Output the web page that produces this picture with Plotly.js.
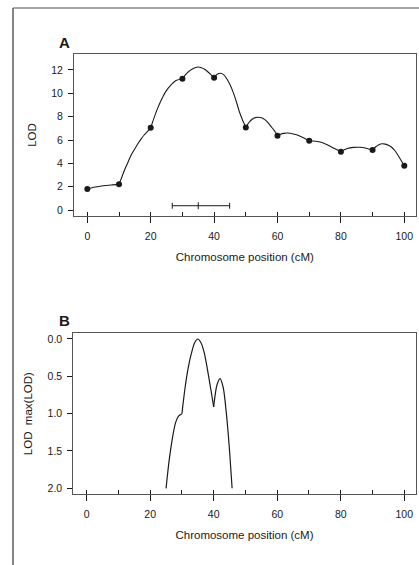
<!DOCTYPE html>
<html>
<head>
<meta charset="utf-8">
<script src="https://cdn.plot.ly/plotly-3.0.1.min.js"></script>
<style>html,body{margin:0;padding:0;background:#fff;}#chart{width:419px;height:565px;}</style>
</head>
<body>
<div id="chart"></div>
<script>
// Panel A: marker positions and LOD at markers
const markerPos = [0, 10, 20, 30, 40, 50, 60, 70, 80, 90, 100];
const markerLOD = [1.8, 2.2, 7.05, 11.25, 11.34, 7.08, 6.37, 5.94, 5.0, 5.14, 3.8];

// Panel A: LOD profile, one piece per marker interval (null separates the pieces)
const curveX = [
  0, 2.5, 5, 7.5, 10, null,
  10, 11, 12, 13, 14, 15, 16, 17, 18, 19, 20, null,
  20, 22, 24, 25, 26, 28, 30, null,
  30, 31, 32, 33, 34, 35, 36, 37, 38, 39, 40, null,
  40, 41, 42, 43, 44, 45, 46, 47, 48, 49, 50, null,
  50, 51, 52, 53, 54, 55, 56, 57, 58, 59, 60, null,
  60, 61, 62, 63, 64, 66, 68, 70, null,
  70, 72, 74, 76, 78, 80, null,
  80, 82, 84, 86, 88, 90, null,
  90, 91, 92, 93, 94, 95, 96, 97, 98, 99, 100
];
const curveLOD = [
  1.8, 1.97, 2.08, 2.15, 2.2, null,
  2.2, 2.9, 3.6, 4.2, 4.8, 5.25, 5.7, 6.1, 6.45, 6.75, 7.05, null,
  7.05, 8.6, 9.8, 10.25, 10.6, 11.1, 11.25, null,
  11.25, 11.6, 11.87, 12.06, 12.2, 12.25, 12.2, 12.07, 11.85, 11.6, 11.34, null,
  11.34, 11.63, 11.72, 11.6, 11.25, 10.75, 10.1, 9.3, 8.4, 7.7, 7.08, null,
  7.08, 7.5, 7.78, 7.92, 7.95, 7.9, 7.75, 7.5, 7.15, 6.8, 6.37, null,
  6.37, 6.5, 6.57, 6.6, 6.58, 6.45, 6.22, 5.94, null,
  5.94, 5.9, 5.78, 5.55, 5.27, 5.0, null,
  5.0, 5.27, 5.37, 5.38, 5.3, 5.14, null,
  5.14, 5.42, 5.6, 5.68, 5.65, 5.55, 5.38, 5.1, 4.7, 4.25, 3.8
];

// Panel A: support interval
const ciPeak = 35;
const ciLow = 26.8;
const ciHigh = 44.9;
const ciLevel = 0.37;

// Panel B: LOD - max(LOD) (shown on reversed axis)
const dropX = [
  25, 26, 27, 28, 29, 30, null,
  30, 31, 32, 33, 34, 35, 36, 37, 38, 39, 40, null,
  40, 41, 42, 43, 44, 45, 45.8
];
const dropLOD = [
  2.0, 1.62, 1.33, 1.12, 1.03, 1.0, null,
  1.0, 0.65, 0.38, 0.19, 0.05, 0.0, 0.05, 0.18, 0.4, 0.65, 0.91, null,
  0.91, 0.62, 0.53, 0.65, 1.0, 1.5, 2.0
];

// Tick labels
const xTickVals = [0, 20, 40, 60, 80, 100];
const yTickValsA = [0, 2, 4, 6, 8, 10, 12];
const yTickValsB = [0, 0.5, 1.0, 1.5, 2.0];
const yTickTextB = ['0.0', '0.5', '1.0', '1.5', '2.0'];

const W = 419, H = 565;
const px = v => v / W;
const py = v => 1 - v / H;
const FONT = 'Liberation Sans, Arial, Helvetica, sans-serif';
const INK = '#1a1a1a';

const traces = [
  {x: curveX, y: curveLOD, xaxis: 'x', yaxis: 'y', mode: 'lines',
   line: {color: INK, width: 1.1, shape: 'spline', smoothing: 0.8}, connectgaps: false,
   hoverinfo: 'skip', showlegend: false},
  {x: markerPos, y: markerLOD, xaxis: 'x', yaxis: 'y', mode: 'markers',
   marker: {color: INK, size: 6, symbol: 'circle'}, showlegend: false},
  {x: [ciPeak], y: [ciLevel], xaxis: 'x', yaxis: 'y', mode: 'markers',
   marker: {color: INK, size: 5, symbol: 'line-ns-open', line: {width: 1, color: INK}},
   error_x: {type: 'data', symmetric: false, array: [ciHigh - ciPeak], arrayminus: [ciPeak - ciLow],
             color: INK, thickness: 1, width: 3},
   showlegend: false},
  {x: dropX, y: dropLOD, xaxis: 'x2', yaxis: 'y2', mode: 'lines',
   line: {color: INK, width: 1.2, shape: 'spline', smoothing: 0.8}, connectgaps: false,
   hoverinfo: 'skip', showlegend: false}
];

const axisCommon = {
  showgrid: false, zeroline: false, showline: true, mirror: true,
  linecolor: '#555', linewidth: 1, ticks: 'outside', tickcolor: INK, tickwidth: 1,
  tickfont: {family: FONT, size: 10.5, color: INK}
};

const layout = {
  width: W, height: H,
  margin: {l: 0, r: 0, t: 0, b: 0},
  paper_bgcolor: '#fff', plot_bgcolor: '#fff',
  font: {family: FONT, color: INK},
  showlegend: false,
  xaxis: Object.assign({}, axisCommon, {
    domain: [px(74), px(415.7)], anchor: 'y', range: [-4.2, 103.6],
    tickvals: xTickVals, ticklen: 6, ticklabelstandoff: 4,
    minor: {dtick: 10, tick0: 0, ticks: 'inside', ticklen: 4, tickcolor: INK, tickwidth: 1, showgrid: false},
    title: {text: 'Chromosome position (cM)', font: {family: FONT, size: 11.5, color: INK}, standoff: 12}
  }),
  yaxis: Object.assign({}, axisCommon, {
    domain: [py(216), py(54)], anchor: 'x', range: [-0.51, 13.37],
    tickvals: yTickValsA, ticklen: 5, ticklabelstandoff: 3,
    title: {text: 'LOD', font: {family: FONT, size: 11.5, color: INK}, standoff: 12}
  }),
  xaxis2: Object.assign({}, axisCommon, {
    domain: [px(73.3), px(415.7)], anchor: 'y2', range: [-4.2, 103.6],
    tickvals: xTickVals, ticklen: 6, ticklabelstandoff: 4,
    minor: {dtick: 10, tick0: 0, ticks: 'inside', ticklen: 4, tickcolor: INK, tickwidth: 1, showgrid: false},
    title: {text: 'Chromosome position (cM)', font: {family: FONT, size: 11.5, color: INK}, standoff: 12}
  }),
  yaxis2: Object.assign({}, axisCommon, {
    domain: [py(494), py(333.3)], anchor: 'x2', range: [2.076, -0.076],
    tickvals: yTickValsB, ticktext: yTickTextB, ticklen: 5, ticklabelstandoff: 3,
    title: {text: 'LOD\u00a0\u00a0max(LOD)', font: {family: FONT, size: 11.5, color: INK}, standoff: 12}
  }),
  annotations: [
    {text: '<b>A</b>', xref: 'paper', yref: 'paper', x: px(64), y: py(42), xanchor: 'center', yanchor: 'middle',
     showarrow: false, font: {family: FONT, size: 15, color: INK}},
    {text: '<b>B</b>', xref: 'paper', yref: 'paper', x: px(64), y: py(320), xanchor: 'center', yanchor: 'middle',
     showarrow: false, font: {family: FONT, size: 15, color: INK}}
  ],
  shapes: [
    {type: 'line', xref: 'paper', yref: 'paper', x0: px(13), x1: px(13), y0: py(8), y1: 0,
     line: {color: '#333', width: 1.2}},
    {type: 'line', xref: 'paper', yref: 'paper', x0: px(13), x1: 1, y0: py(8), y1: py(8),
     line: {color: '#555', width: 1}}
  ]
};

Plotly.newPlot('chart', traces, layout, {staticPlot: true, displayModeBar: false});
</script>
</body>
</html>
